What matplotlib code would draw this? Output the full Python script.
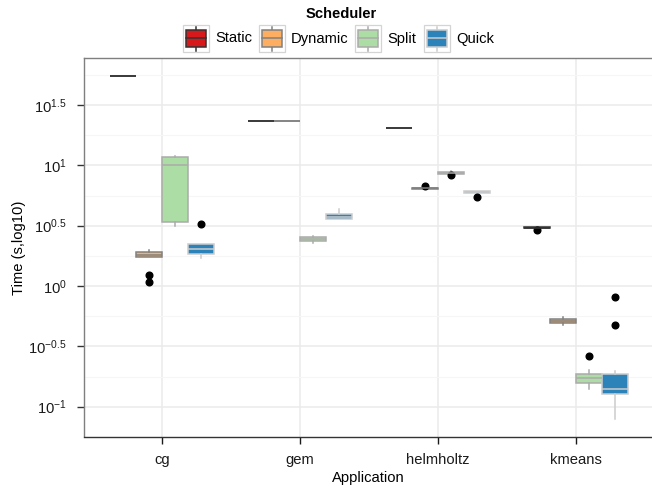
import matplotlib
matplotlib.use("Agg")
import matplotlib.pyplot as plt
from matplotlib.patches import Rectangle
from matplotlib.lines import Line2D

plt.rcParams["font.family"] = ["Liberation Sans", "DejaVu Sans"]
plt.rcParams["mathtext.fontset"] = "custom"
plt.rcParams["mathtext.rm"] = "Liberation Sans"
plt.rcParams["mathtext.it"] = "Liberation Sans:italic"
plt.rcParams["mathtext.bf"] = "Liberation Sans:bold"

# ===================
#  DATA  (log10 seconds; rows = scheduler, cols = application)
# ===================

apps = ["cg", "gem", "helmholtz", "kmeans"]
schedulers = ["Static", "Dynamic", "Split", "Quick"]

q1 = [
    [1.742, 1.370, 1.312, 0.478],
    [0.243, 1.370, 0.803, -0.309],
    [0.530, 0.372, 0.930, -0.801],
    [0.263, 0.558, 0.774, -0.897],
]
med = [
    [1.742, 1.370, 1.312, 0.483],
    [0.260, 1.370, 0.810, -0.290],
    [1.000, 0.389, 0.936, -0.765],
    [0.304, 0.572, 0.781, -0.853],
]
q3 = [
    [1.742, 1.370, 1.312, 0.487],
    [0.279, 1.370, 0.815, -0.271],
    [1.066, 0.404, 0.942, -0.729],
    [0.345, 0.594, 0.788, -0.729],
]
whis_lo = [
    [1.742, 1.370, 1.312, 0.478],
    [0.243, 1.370, 0.803, -0.326],
    [0.497, 0.358, 0.930, -0.851],
    [0.229, 0.558, 0.774, -1.099],
]
whis_hi = [
    [1.742, 1.370, 1.312, 0.487],
    [0.298, 1.370, 0.815, -0.254],
    [1.075, 0.418, 0.953, -0.696],
    [0.345, 0.638, 0.788, -0.704],
]
outliers = [
    [[], [], [], [0.464]],
    [[0.091, 0.036], [], [0.831], []],
    [[], [], [0.917], [-0.577]],
    [[0.511], [], [0.740], [-0.089, -0.321]],
]

ytick_vals = [-1, -0.5, 0, 0.5, 1, 1.5]
ytick_labels = [r"$10^{-1}$", r"$10^{-0.5}$", r"$10^{0}$",
                r"$10^{0.5}$", r"$10^{1}$", r"$10^{1.5}$"]
yminor_vals = [-0.75, -0.25, 0.25, 0.75, 1.25, 1.75]

FILLS = ["#d7191c", "#fdae61", "#abdda4", "#2b83ba"]
EDGES = ["#333333", "#818181", "#ababab", "#cccccc"]
OFFSETS = [-0.28125, -0.09375, 0.09375, 0.28125]
BOX_W = 0.1875
LW = 1.1
FS = 10.6

W, H = 652, 488

fig = plt.figure(figsize=(W / 100, H / 100), dpi=100)
ax = fig.add_axes([84.3 / W, 1 - 436.5 / H, 1 - 84.3 / W, (436.5 - 58.3) / H])
ax.set_yscale("log")

# ── boxes ───────────────────────────────────────
for i, name in enumerate(schedulers):
    stats = []
    for j in range(len(apps)):
        stats.append(dict(
            med=10 ** med[i][j], q1=10 ** q1[i][j], q3=10 ** q3[i][j],
            whislo=10 ** whis_lo[i][j], whishi=10 ** whis_hi[i][j],
            fliers=[10 ** v for v in outliers[i][j]]))
    pos = [j + 1 + OFFSETS[i] for j in range(len(apps))]
    ax.bxp(stats, positions=pos, widths=BOX_W, patch_artist=True,
           showcaps=False, manage_ticks=False,
           boxprops=dict(facecolor=FILLS[i], edgecolor=EDGES[i], linewidth=LW),
           medianprops=dict(color=EDGES[i], linewidth=LW),
           whiskerprops=dict(color=EDGES[i], linewidth=LW),
           flierprops=dict(marker="o", markerfacecolor="black",
                           markeredgecolor="black", markersize=4.8,
                           linestyle="none"),
           zorder=3)

# ── axes styling ────────────────────────────────
ax.set_xlim(0.437, 4.551)
ax.set_ylim(10 ** -1.247, 10 ** 1.887)
ax.set_xticks(range(1, len(apps) + 1))
ax.set_xticklabels(apps)
ax.set_yticks([10 ** v for v in ytick_vals])
ax.set_yticklabels(ytick_labels)
ax.set_yticks([10 ** v for v in yminor_vals], minor=True)
ax.set_yticklabels([], minor=True)
ax.tick_params(axis="y", which="minor", length=0)
ax.tick_params(axis="both", which="major", length=5, width=1,
               labelsize=FS, labelcolor="#1a1a1a")
ax.tick_params(axis="y", which="major", color="#333333", pad=7.5)
ax.tick_params(axis="x", which="major", color="#1a1a1a", pad=7)

ax.grid(True, which="major", color="#ebebeb", linewidth=1.1, zorder=0)
ax.grid(True, which="minor", axis="y", color="#f6f6f6", linewidth=0.8, zorder=0)
ax.set_axisbelow(True)

for s in ["top", "left"]:
    ax.spines[s].set_color("#7f7f7f")
    ax.spines[s].set_linewidth(1.0)
ax.spines["bottom"].set_color("#333333")
ax.spines["bottom"].set_linewidth(1.0)
ax.spines["right"].set_visible(False)

ax.set_xlabel("Application", fontsize=FS, labelpad=3)
ax.set_ylabel("Time (s,log10)", fontsize=FS, labelpad=2)

# ── legend (drawn in figure pixels) ─────────────
def fx(x):
    return x / W

def fy(y):
    return 1 - y / H

fig.text(fx(341.7), fy(14), "Scheduler", fontsize=FS, fontweight="bold",
         ha="center", va="center")

key_x = [183, 258.5, 355, 424]
label_x = [215, 291, 387, 456]
KEY_W, KEY_H, KEY_TOP = 26, 27, 25
for i, name in enumerate(schedulers):
    x0 = key_x[i]
    fig.add_artist(Rectangle((fx(x0), fy(KEY_TOP + KEY_H)), KEY_W / W, KEY_H / H,
                             transform=fig.transFigure, facecolor="white",
                             edgecolor="#d4d4d4", linewidth=0.9, zorder=1))
    cx = x0 + KEY_W / 2
    fig.add_artist(Line2D([fx(cx), fx(cx)], [fy(KEY_TOP + 1.5), fy(KEY_TOP + KEY_H - 1.5)],
                          transform=fig.transFigure, color=EDGES[i], linewidth=LW,
                          zorder=2))
    fig.add_artist(Rectangle((fx(cx - 10), fy(KEY_TOP + 21.7)), 20 / W, 16.7 / H,
                             transform=fig.transFigure, facecolor=FILLS[i],
                             edgecolor=EDGES[i], linewidth=LW, zorder=3))
    fig.add_artist(Line2D([fx(cx - 10), fx(cx + 10)], [fy(KEY_TOP + 13.4)] * 2,
                          transform=fig.transFigure, color=EDGES[i], linewidth=LW,
                          zorder=4))
    fig.text(fx(label_x[i]), fy(38.5), name, fontsize=FS, ha="left", va="center")

fig.savefig("out.png", dpi=100)
print("Saved -> out.png")
